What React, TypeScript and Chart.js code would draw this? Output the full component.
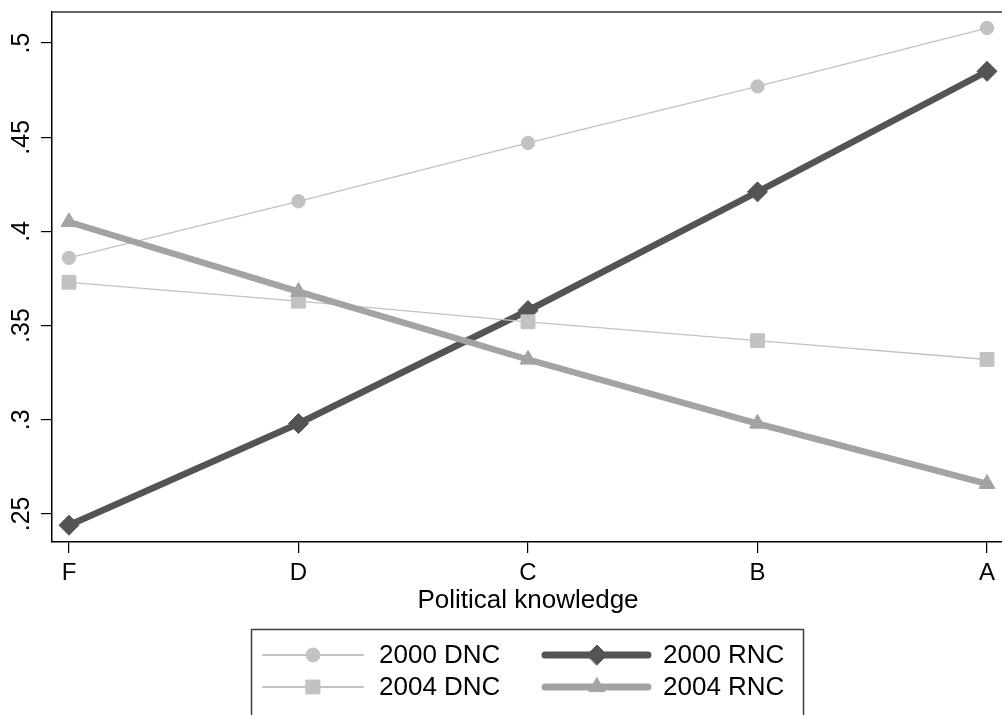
import React, { useEffect, useRef } from "react";
import { Chart, registerables } from "chart.js";
import { drawPoint } from "chart.js/helpers";

Chart.register(...registerables);

// ---- data ----
const grades = ["F", "D", "C", "B", "A"];
const dnc2000 = [0.386, 0.416, 0.447, 0.477, 0.508];
const rnc2000 = [0.244, 0.298, 0.358, 0.421, 0.485];
const dnc2004 = [0.373, 0.363, 0.352, 0.342, 0.332];
const rnc2004 = [0.405, 0.368, 0.332, 0.298, 0.266];
const yTicks = [0.25, 0.3, 0.35, 0.4, 0.45, 0.5];
const yTickLabels = [".25", ".3", ".35", ".4", ".45", ".5"];
const seriesNames = ["2000 DNC", "2000 RNC", "2004 DNC", "2004 RNC"];
const xTitle = "Political knowledge";

const FONT = '"Liberation Sans", Arial, Helvetica, sans-serif';
const LIGHT = "#c2c2c2";
const MEDIUM = "#a3a3a3";
const DARK = "#545454";

const toPoints = (vals: number[]) => vals.map((v, i) => ({ x: i, y: v }));

const topFrame = {
  id: "topFrame",
  afterDraw(chart: any) {
    const { ctx, chartArea } = chart;
    ctx.save();
    ctx.strokeStyle = "#333";
    ctx.lineWidth = 1.5;
    ctx.beginPath();
    ctx.moveTo(chartArea.left, chartArea.top);
    ctx.lineTo(chartArea.right, chartArea.top);
    ctx.stroke();
    ctx.restore();
  },
};

const boxLegend = {
  id: "boxLegend",
  afterDraw(chart: any) {
    const ctx = chart.ctx;
    ctx.save();
    ctx.strokeStyle = "#404040";
    ctx.lineWidth = 1.5;
    ctx.strokeRect(251.5, 629.5, 552, 120);
    const cols = [
      { x0: 263, x1: 363, mx: 313, tx: 379 },
      { x0: 545, x1: 648, mx: 597, tx: 663 },
    ];
    const rows = [655, 687];
    chart.data.datasets.forEach((ds: any, i: number) => {
      const c = cols[i % 2];
      const y = rows[Math.floor(i / 2)];
      ctx.strokeStyle = ds.borderColor;
      ctx.lineWidth = ds.legendLineWidth;
      ctx.lineCap = "round";
      ctx.beginPath();
      ctx.moveTo(c.x0, y);
      ctx.lineTo(c.x1, y);
      ctx.stroke();
      ctx.fillStyle = ds.pointBackgroundColor;
      ctx.strokeStyle = ds.pointBorderColor;
      ctx.lineWidth = 1;
      drawPoint(ctx, { pointStyle: ds.pointStyle, radius: ds.legendRadius, rotation: 0, borderWidth: 1 } as any, c.mx, y);
      ctx.fillStyle = "#000";
      ctx.font = `26px ${FONT}`;
      ctx.textBaseline = "middle";
      ctx.textAlign = "left";
      ctx.fillText(ds.label, c.tx, y + 1);
    });
    ctx.restore();
  },
};

export default function App() {
  const ref = useRef<HTMLCanvasElement | null>(null);

  useEffect(() => {
    if (!ref.current) return;
    Chart.defaults.font.family = FONT;
    const axisGrid = {
      drawOnChartArea: false,
      drawTicks: true,
      tickLength: 11,
      color: "#000",
      lineWidth: 1.2,
    };
    const axisBorder = { display: true, color: "#000", width: 1.5 };
    const chart = new Chart(ref.current, {
      type: "line",
      data: {
        datasets: [
          {
            label: seriesNames[0],
            data: toPoints(dnc2000),
            borderColor: LIGHT,
            backgroundColor: LIGHT,
            borderWidth: 1.3,
            pointStyle: "circle",
            pointRadius: 6.7,
            pointBackgroundColor: LIGHT,
            pointBorderColor: LIGHT,
            pointBorderWidth: 1,
            order: 4,
            legendRadius: 7,
            legendLineWidth: 2,
          } as any,
          {
            label: seriesNames[1],
            data: toPoints(rnc2000),
            borderColor: DARK,
            backgroundColor: DARK,
            borderWidth: 6.5,
            borderJoinStyle: "round",
            borderCapStyle: "round",
            pointStyle: "rectRot",
            pointRadius: 10,
            pointBackgroundColor: DARK,
            pointBorderColor: DARK,
            pointBorderWidth: 1,
            order: 3,
            legendRadius: 10,
            legendLineWidth: 7,
          } as any,
          {
            label: seriesNames[2],
            data: toPoints(dnc2004),
            borderColor: LIGHT,
            backgroundColor: LIGHT,
            borderWidth: 1.3,
            pointStyle: "rect",
            pointRadius: 9.8,
            pointBackgroundColor: LIGHT,
            pointBorderColor: LIGHT,
            pointBorderWidth: 1,
            order: 2,
            legendRadius: 9.8,
            legendLineWidth: 2,
          } as any,
          {
            label: seriesNames[3],
            data: toPoints(rnc2004),
            borderColor: MEDIUM,
            backgroundColor: MEDIUM,
            borderWidth: 6.5,
            borderJoinStyle: "round",
            borderCapStyle: "round",
            pointStyle: "triangle",
            pointRadius: 9.2,
            pointBackgroundColor: MEDIUM,
            pointBorderColor: MEDIUM,
            pointBorderWidth: 1,
            order: 1,
            legendRadius: 9.2,
            legendLineWidth: 7,
          } as any,
        ],
      },
      options: {
        responsive: false,
        animation: false,
        events: [],
        layout: { autoPadding: false, padding: { top: 12, left: 0, right: 36, bottom: 93 } },
        plugins: {
          legend: { display: false },
          tooltip: { enabled: false },
        },
        scales: {
          x: {
            type: "linear",
            min: -0.074,
            max: 4.074,
            afterBuildTicks: (s: any) => {
              s.ticks = grades.map((_, i) => ({ value: i }));
            },
            afterFit: (s: any) => {
              s.height = 80;
              s.paddingLeft = 0;
              s.paddingRight = 0;
            },
            grid: axisGrid,
            border: axisBorder,
            ticks: {
              callback: (v: any) => grades[Math.round(Number(v))] ?? "",
              font: { size: 24, family: FONT },
              color: "#000",
              padding: 6,
              maxRotation: 0,
              minRotation: 0,
              autoSkip: false,
            },
            title: {
              display: true,
              text: xTitle,
              font: { size: 26, family: FONT },
              color: "#000",
              padding: { top: 0, bottom: 6 },
            },
          },
          y: {
            type: "linear",
            min: 0.2351,
            max: 0.5165,
            afterBuildTicks: (s: any) => {
              s.ticks = yTicks.map((v) => ({ value: v }));
            },
            afterFit: (s: any) => {
              s.width = 52;
              s.paddingTop = 0;
              s.paddingBottom = 0;
            },
            grid: axisGrid,
            border: axisBorder,
            ticks: {
              callback: (v: any) => {
                const idx = yTicks.findIndex((t) => Math.abs(t - Number(v)) < 1e-9);
                return idx >= 0 ? yTickLabels[idx] : "";
              },
              minRotation: 90,
              maxRotation: 90,
              crossAlign: "center",
              padding: 2,
              font: { size: 25, family: FONT },
              color: "#000",
              autoSkip: false,
            },
          },
        },
      } as any,
      plugins: [topFrame, boxLegend],
    });
    return () => chart.destroy();
  }, []);

  return (
    <div style={{ position: "absolute", left: 0, top: 0, width: 1002, height: 715, overflow: "hidden", background: "#fff" }}>
      <canvas ref={ref} width={1040} height={715} style={{ display: "block" }} />
    </div>
  );
}
